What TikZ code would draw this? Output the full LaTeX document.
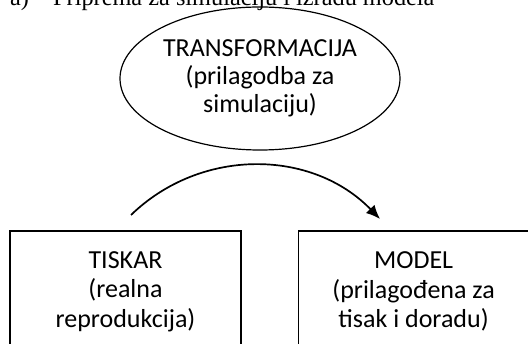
\documentclass[tikz,border=0pt]{standalone}
\usepackage{fontspec}
\setmainfont{Carlito}
\newfontfamily\titlefont{Liberation Serif}
\usetikzlibrary{shapes.geometric, arrows.meta, positioning}

\begin{document}
\begin{tikzpicture}[
        x=1pt, y=-1pt,
        node distance=56pt,
        box/.style={rectangle, draw=black, line width=1.1pt,
            minimum width=231pt, minimum height=121pt, inner sep=0pt,
            align=center, font=\fontsize{26}{29.5}\selectfont},
        oval/.style={ellipse, draw=black, line width=1.2pt,
            minimum width=280pt, minimum height=143pt, inner sep=0pt,
            align=center, font=\fontsize{26}{28}\selectfont},
        arrow/.style={-{Latex[length=14pt, width=12pt]}, line width=1.7pt},
        txttitle/.style={font=\titlefont\fontsize{24.3}{28}\selectfont,
            inner sep=0pt, anchor=base west}
        ]
        \useasboundingbox (0,0) rectangle (528,344);

        \node[txttitle] (label) at (10,5.5) {a)};
        \node[txttitle] (title) at (53,5.5) {Priprema za simulaciju i izradu modela};

        \node[oval] (transf) at (260,78.5)
        {TRANSFORMACIJA\\(prilagodba za\\simulaciju)};

        \node[box] (tiskar) at (125.5,291.5)
        {TISKAR\\(realna\\reprodukcija)};
        \node[box, right=of tiskar] (model)
        {MODEL\\(prilagođena za\\tisak i doradu)};

        \coordinate (from) at (131,215);
        \coordinate (to) at (380,219);
        \draw[arrow] (from) to[bend left=45] (to);
    \end{tikzpicture}
\end{document}
